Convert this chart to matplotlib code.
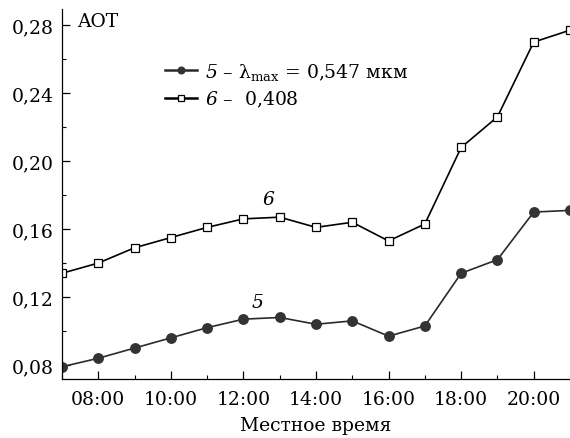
"""
AOT diurnal course, two wavelengths
"""
import matplotlib
matplotlib.use("Agg")
import matplotlib.pyplot as plt
import numpy as np

hours = [7, 8, 9, 10, 11, 12, 13, 14, 15, 16, 17, 18, 19, 20, 21]
aot_547 = [0.079, 0.084, 0.090, 0.096, 0.102, 0.107, 0.108, 0.104, 0.106,
           0.097, 0.103, 0.134, 0.142, 0.170, 0.171]
aot_408 = [0.134, 0.140, 0.149, 0.155, 0.161, 0.166, 0.167, 0.161, 0.164,
           0.153, 0.163, 0.208, 0.226, 0.270, 0.277]
xticks = [8, 10, 12, 14, 16, 18, 20]
xtick_labels = ["08:00", "10:00", "12:00", "14:00", "16:00", "18:00", "20:00"]
yticks = [0.08, 0.12, 0.16, 0.20, 0.24, 0.28]
ytick_labels = ["0,08", "0,12", "0,16", "0,20", "0,24", "0,28"]

plt.rcParams["font.family"] = ["DejaVu Serif"]
plt.rcParams["mathtext.fontset"] = "custom"
plt.rcParams["mathtext.rm"] = "DejaVu Serif"
plt.rcParams["mathtext.it"] = "DejaVu Serif:italic"
# italic digits: 'it' would fall back to roman for non-letters
plt.rcParams["mathtext.sf"] = "DejaVu Serif:italic"
plt.rcParams["font.size"] = 13.5

fig = plt.figure(figsize=(5.7, 4.39), dpi=100)
ax = fig.add_axes([0.1088, 0.1344, 0.8912, 0.8426])

ax.plot(hours, aot_547, "-o", color="#2a2a2a", lw=1.2, ms=6.8,
        mfc="#333333", mec="#333333",
        label=r"$\mathsf{5}$ – λ$_{\rm max}$ = 0,547 мкм")
ax.plot(hours, aot_408, "-s", color="black", lw=1.2, ms=5.4,
        mfc="white", mec="black", mew=0.9,
        label=r"$\mathsf{6}$ –  0,408")

ax.set_xlim(7, 21)
ax.set_ylim(0.0718, 0.2894)
ax.set_xticks(xticks)
ax.set_xticklabels(xtick_labels)
ax.set_xticks(hours, minor=True)
ax.set_yticks(yticks)
ax.set_yticklabels(ytick_labels)
ax.set_yticks(np.arange(0.08, 0.29, 0.02), minor=True)
ax.tick_params(direction="in", length=6, width=0.9, pad=6)
ax.tick_params(axis="x", pad=8)
ax.tick_params(which="minor", direction="in", length=3, width=0.8)

for side in ["top", "right"]:
    ax.spines[side].set_visible(False)
for side in ["left", "bottom"]:
    ax.spines[side].set_linewidth(0.9)

ax.set_xlabel("Местное время", labelpad=6)
ax.text(0.03, 0.968, "AOT", transform=ax.transAxes, va="center", ha="left")
ax.text(12.68, 0.1776, "6", style="italic", ha="center", va="center")
ax.text(12.4, 0.117, "5", style="italic", ha="center", va="center")

leg = ax.legend(loc="upper left", bbox_to_anchor=(0.188, 0.88), frameon=False,
                handlelength=1.7, handletextpad=0.45, labelspacing=0.35,
                borderaxespad=0, markerscale=0.7)
for line in leg.get_lines():
    line.set_linewidth(1.8)

fig.savefig("out.png", dpi=100)
